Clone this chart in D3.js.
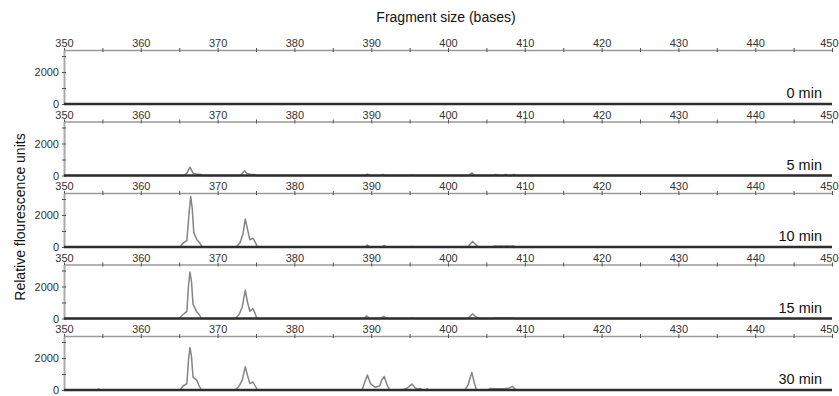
<!DOCTYPE html>
<html>
<head>
<meta charset="utf-8">
<script src="https://cdn.jsdelivr.net/npm/d3@7"></script>
<style>
  body { margin: 0; background: #fff; }
  svg { font-family: "Liberation Sans", Arial, sans-serif; }
</style>
</head>
<body>
<svg id="chart" width="839" height="396"></svg>
<script>
// tick values
const sizeTicks = d3.range(350, 451, 5);
const sizeLabels = [350, 360, 370, 380, 390, 400, 410, 420, 430, 440, 450];
const rfuTicks = [0, 1000, 2000, 3000];
const rfuLabels = [0, 2000];
const timepoints = ['0 min', '5 min', '10 min', '15 min', '30 min'];

// traces: [fragment size (bases), relative fluorescence units]
const trace0 = [[350, 0], [450, 0]];

const trace5 = [
  [350, 0], [365.6, 0], [366.0, 150], [366.4, 520], [366.8, 150], [367.2, 90], [367.8, 60], [368.1, 0],
  [372.9, 0], [373.2, 120], [373.5, 300], [373.8, 120], [374.3, 80], [374.8, 60], [375.1, 0],
  [389.2, 0], [389.5, 90], [389.8, 0], [391.2, 0], [391.5, 60], [391.8, 0],
  [395.1, 0], [395.3, 40], [395.6, 0],
  [402.7, 0], [403.1, 160], [403.5, 0],
  [405.9, 0], [406.2, 60], [406.6, 0], [407.2, 0], [407.5, 70], [407.8, 0], [408.3, 0], [408.6, 60], [408.9, 0],
  [450, 0]
];

const trace10 = [
  [350, 0], [365.1, 0], [365.5, 250], [366.0, 400], [366.3, 2200], [366.5, 3150], [366.7, 2400], [366.9, 900],
  [367.3, 450], [367.6, 300], [368.0, 0],
  [372.4, 0], [372.9, 250], [373.3, 800], [373.6, 1750], [373.9, 1100], [374.2, 450], [374.6, 550], [374.9, 300], [375.2, 0],
  [389.2, 0], [389.5, 120], [389.8, 0], [391.4, 0], [391.7, 100], [392.0, 0],
  [395.2, 0], [395.4, 30], [395.6, 0],
  [402.6, 0], [403.0, 250], [403.2, 350], [403.6, 150], [404.0, 0],
  [405.8, 0], [406.1, 60], [406.5, 40], [406.9, 60], [407.3, 40], [407.7, 60], [408.1, 40], [408.5, 60], [408.9, 0],
  [450, 0]
];

const trace15 = [
  [350, 0], [365.0, 0], [365.5, 250], [366.0, 450], [366.2, 2000], [366.4, 2900], [366.6, 2300], [366.8, 900],
  [367.3, 400], [367.6, 250], [367.9, 0],
  [372.3, 0], [372.8, 250], [373.2, 700], [373.6, 1770], [373.9, 1000], [374.2, 450], [374.6, 620], [374.9, 300], [375.1, 0],
  [389.1, 0], [389.4, 160], [389.8, 0], [391.3, 0], [391.6, 130], [392.0, 0],
  [395.0, 0], [395.3, 40], [395.6, 0],
  [402.6, 0], [403.0, 200], [403.2, 300], [403.6, 120], [404.0, 0],
  [405.9, 0], [406.2, 50], [406.7, 30], [407.2, 50], [407.7, 30], [408.2, 50], [408.6, 0],
  [450, 0]
];

const trace30 = [
  [350, 0], [354.3, 0], [354.5, 60], [354.7, 0],
  [365.1, 0], [365.5, 250], [366.0, 400], [366.2, 1800], [366.4, 2650], [366.6, 2100], [366.8, 800],
  [367.3, 600], [367.6, 250], [367.9, 0],
  [372.3, 0], [372.8, 250], [373.2, 600], [373.6, 1450], [373.9, 900], [374.2, 400], [374.6, 500], [374.9, 250], [375.2, 0],
  [388.8, 0], [389.1, 400], [389.5, 940], [389.9, 400], [390.5, 170], [391.1, 250], [391.4, 650], [391.7, 850],
  [392.0, 400], [392.4, 0],
  [394.0, 0], [394.4, 60], [394.9, 200], [395.3, 370], [395.7, 150], [396.0, 60], [396.4, 90], [396.7, 0],
  [397.1, 0], [397.3, 80], [397.5, 0],
  [402.2, 0], [402.6, 300], [403.1, 1100], [403.4, 500], [403.7, 0],
  [405.2, 0], [405.5, 100], [406.5, 80], [407.5, 100], [408.0, 130], [408.4, 230], [408.7, 60], [409.0, 0],
  [450, 0]
];

const traces = [trace0, trace5, trace10, trace15, trace30];

const svg = d3.select('#chart');
const panelTop = 50, panelStep = 71.5, panelHeight = 54;

const x = d3.scaleLinear().domain([350, 450]).range([64, 832]);
const y = d3.scaleLinear().domain([0, 3375]).range([panelHeight, 0]);

const area = d3.area()
  .x(d => x(d[0]))
  .y0(y(0))
  .y1(d => y(d[1]));

const line = d3.line()
  .x(d => x(d[0]))
  .y(d => y(d[1]));

timepoints.forEach((label, i) => {
  const g = svg.append('g')
    .attr('transform', `translate(0,${panelTop + i * panelStep})`);

  // size axis along the top of each panel
  const xAxis = g.append('g')
    .call(d3.axisTop(x)
      .tickValues(sizeTicks)
      .tickSizeInner(2)
      .tickSizeOuter(0)
      .tickPadding(1)
      .tickFormat(d => sizeLabels.includes(d) ? d : ''));
  xAxis.select('.domain').attr('stroke', '#9a9a9a').attr('stroke-width', 1.6);
  xAxis.selectAll('.tick line').attr('y1', 2).attr('y2', -2).attr('stroke', '#555');
  xAxis.selectAll('.tick text').attr('font-size', 11).attr('fill', '#333');
  // last label sits flush against the right edge
  xAxis.selectAll('.tick text').filter(d => d === 450)
    .attr('text-anchor', 'end')
    .attr('x', 838 - x(450));

  // rfu axis
  const yAxis = g.append('g')
    .attr('transform', `translate(${x(350)},0)`)
    .call(d3.axisLeft(y)
      .tickValues(rfuTicks)
      .tickSizeInner(2)
      .tickSizeOuter(0)
      .tickPadding(3)
      .tickFormat(d => rfuLabels.includes(d) ? d : ''));
  yAxis.select('.domain').attr('stroke', '#aaa').attr('stroke-width', 2);
  yAxis.selectAll('.tick line').attr('x1', 2).attr('x2', -2).attr('stroke', '#555');
  yAxis.selectAll('.tick text').attr('font-size', 11).attr('fill', '#333');

  g.append('path')
    .datum(traces[i])
    .attr('d', area)
    .attr('fill', '#fff');

  g.append('path')
    .datum(traces[i])
    .attr('d', line)
    .attr('fill', 'none')
    .attr('stroke', '#858585')
    .attr('stroke-width', 1.5)
    .attr('stroke-linejoin', 'round');

  g.append('line')
    .attr('x1', x(350))
    .attr('x2', x(450))
    .attr('y1', y(0))
    .attr('y2', y(0))
    .attr('stroke', '#2e2e2e')
    .attr('stroke-width', 2.5);

  g.append('text')
    .attr('x', 822)
    .attr('y', y(0) - 6)
    .attr('text-anchor', 'end')
    .attr('font-size', 14.5)
    .attr('fill', '#111')
    .text(label);
});

svg.append('text')
  .attr('x', 446)
  .attr('y', 22)
  .attr('text-anchor', 'middle')
  .attr('font-size', 14)
  .attr('fill', '#111')
  .text('Fragment size (bases)');

svg.append('text')
  .attr('transform', 'translate(25,217) rotate(-90)')
  .attr('text-anchor', 'middle')
  .attr('font-size', 14)
  .attr('fill', '#111')
  .text('Relative flourescence units');
</script>
</body>
</html>
